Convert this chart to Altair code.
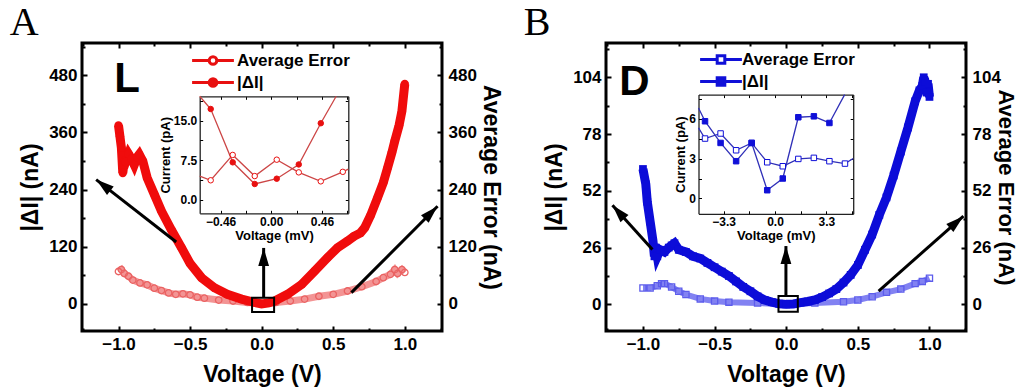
import altair as alt
import pandas as pd

FONT = "Liberation Sans"
W, H = 360, 288

# ---------------- Panel A (L) : main curves ----------------
A_dI_v = [-1.0, -0.99, -0.98, -0.97, -0.96, -0.95, -0.93, -0.91, -0.89, -0.87, -0.855, -0.83,
          -0.80, -0.75, -0.70, -0.63, -0.56, -0.50, -0.42, -0.33, -0.24, -0.14, -0.05, 0.0,
          0.05, 0.09, 0.18, 0.28, 0.37, 0.46, 0.53, 0.60, 0.645, 0.69, 0.72, 0.76, 0.81, 0.85,
          0.88, 0.91, 0.93, 0.96, 0.98, 1.0]
A_dI = [375, 352, 328, 275, 300, 298, 315, 305, 292, 308, 314, 300,
        265, 230, 195, 155, 118, 85, 55, 34, 20, 10, 3, 0,
        2, 6, 20, 41, 69, 97, 118, 132, 142, 149, 160, 185, 223, 255,
        286, 318, 342, 375, 405, 462]
A_avg_v = [-1.0, -0.98, -0.96, -0.93, -0.9, -0.85, -0.8, -0.75, -0.7, -0.65, -0.6, -0.55, -0.5,
           -0.45, -0.4, -0.3, -0.2, -0.1, 0.0, 0.1, 0.2, 0.3, 0.4, 0.5, 0.6, 0.7, 0.8, 0.85,
           0.9, 0.93, 0.95, 0.98, 1.0]
A_avg = [68, 72, 64, 58, 50, 44, 40, 33, 28, 23, 20, 21, 19,
         14, 12, 8, 6, 3, 0, 3, 6, 10, 16, 20, 27, 36, 47, 55,
         62, 72, 64, 72, 66]
# inset A (mV, pA); first / last entries are where the lines meet the inset frame
A_ins_avg_v = [-0.65, -0.55, -0.35, -0.15, 0.05, 0.25, 0.45, 0.65, 0.70]
A_ins_avg = [4.5, 3.7, 8.5, 4.5, 7.6, 5.2, 3.5, 5.3, 5.8]
A_ins_dI_v = [-0.65, -0.55, -0.35, -0.15, 0.05, 0.25, 0.45, 0.59]
A_ins_dI = [19.6, 17.2, 7.1, 3.0, 4.0, 6.7, 14.5, 19.6]
# annotations A
A_arrow_x0 = [-0.597, 0.627, 0.014]
A_arrow_y0 = [130, 23.5, 13]
A_arrow_x1 = [-1.156, 1.229, 0.014]
A_arrow_y1 = [261, 205, 117.5]
A_arrow_ang = [308, 45, 0]
A_box = [-0.067, 0.087, -17, 13]
A_letter = ["L", -1.03, 446]

# ---------------- Panel B (D) ----------------
B_dI_v = [-1.0, -0.98, -0.97, -0.95, -0.93, -0.92, -0.91, -0.9, -0.88, -0.85, -0.82, -0.8, -0.78,
          -0.75, -0.7, -0.65, -0.6, -0.55, -0.5, -0.45, -0.4, -0.35, -0.3, -0.25, -0.2, -0.15,
          -0.1, -0.05, 0.0, 0.05, 0.1, 0.15, 0.2, 0.25, 0.3, 0.35, 0.4, 0.45, 0.5, 0.55, 0.6,
          0.65, 0.7, 0.75, 0.8, 0.85, 0.9, 0.93, 0.95, 0.96, 0.97, 0.98, 0.99, 1.0]
B_dI = [62, 55, 47, 38, 29, 22, 26, 22, 25, 24, 26, 27, 28,
        25, 24, 22, 21, 19, 17, 15, 13, 10.5, 8, 6, 3.7, 2,
        1, 0.3, 0, 0.2, 0.8, 1.3, 2, 3.3, 5, 7, 10, 13.5, 18, 25, 32,
        41, 49, 59, 70, 81, 93, 98, 100, 104, 102, 97, 101, 95]
B_avg_v = [-1.0, -0.95, -0.9, -0.87, -0.85, -0.8, -0.75, -0.7, -0.6, -0.5, -0.4, -0.2, 0.0,
           0.2, 0.4, 0.5, 0.6, 0.7, 0.8, 0.9, 0.95, 1.0]
B_avg = [7.5, 7.5, 8.5, 9.5, 9.5, 8, 6, 4.5, 2.5, 1.5, 1, 0.6, 0,
         0.6, 1.2, 2, 3.5, 5.5, 7, 9.5, 10.5, 12]
B_ins_avg_v = [-4.92, -4.5, -3.5, -2.5, -1.5, -0.5, 0.5, 1.5, 2.5, 3.5, 4.5, 5.03]
B_ins_avg = [5.3, 4.5, 4.88, 3.62, 4.17, 2.72, 2.42, 2.97, 3.05, 2.8, 2.62, 3.0]
B_ins_dI_v = [-4.92, -4.5, -3.5, -2.5, -1.5, -0.5, 0.5, 1.5, 2.5, 3.5, 4.48]
B_ins_dI = [6.8, 5.8, 4.17, 2.8, 4.17, 0.62, 1.5, 6.1, 6.17, 5.67, 7.8]
B_arrow_x0 = [-0.934, 0.645, -0.002]
B_arrow_y0 = [25.1, 6.1, 3.8]
B_arrow_x1 = [-1.213, 1.237, -0.002]
B_arrow_y1 = [45.4, 40.4, 26.7]
B_arrow_ang = [318, 49, 0]
B_box = [-0.054, 0.081, -3.4, 3.8]
B_letter = ["D", -1.165, 96]

SERIES = ["Average Error", "|ΔI|"]
X_TICKS = [-1.0, -0.5, 0.0, 0.5, 1.0]
X_MINOR = [-1.25, -0.75, -0.25, 0.25, 0.75, 1.25]
ARROW = "M0,0L0.6,2L-0.6,2Z"

PANELS = [
    dict(title="A", tdx=-10, xdom=[-1.255, 1.26], ydom=[-57, 548],
         yt=[0, 120, 240, 360, 480], ym=[60, 180, 300, 420, 540], rtpad=2, rtsize=23,
         dI_v=A_dI_v, dI=A_dI, avg_v=A_avg_v, avg=A_avg,
         c_dI="#f00c0c", c_avg_line="#f39494", c_avg_pt="#ea6262", shape="circle",
         dI_w=9, dI_size=70, avg_w=7, avg_size=42,
         ins_avg_v=A_ins_avg_v, ins_avg=A_ins_avg, ins_dI_v=A_ins_dI_v, ins_dI=A_ins_dI,
         ixdom=[-0.65, 0.70], iydom=[-2.55, 19.6], ixr=[117.7, 266.3], iyr=[170.3, 53.3],
         ixt=[-0.46, 0.0, 0.46], ixm=[-0.46, -0.23, 0.0, 0.23, 0.46, 0.69], ixf=".2f",
         iyt=[0, 7.5, 15], iym=[0, 3.75, 7.5, 11.25, 15, 18.75], iyf=".1f",
         c_ins="#cc4646", c_leg="#e81010",
         sym="M-2.2,0H-0.4M0.4,0H2.2M-0.4,0A0.4,0.4 0 1,1 0.4,0A0.4,0.4 0 1,1 -0.4,0Z",
         legx=120, legy=6.5, leg_off=13,
         ax0=A_arrow_x0, ay0=A_arrow_y0, ax1=A_arrow_x1, ay1=A_arrow_y1, aang=A_arrow_ang,
         box=A_box, letter=A_letter),
    dict(title="B", tdx=-20, xdom=[-1.258, 1.255], ydom=[-12.2, 119.7],
         yt=[0, 26, 52, 78, 104], ym=[13, 39, 65, 91, 117], rtpad=-7, rtsize=22,
         dI_v=B_dI_v, dI=B_dI, avg_v=B_avg_v, avg=B_avg,
         c_dI="#0c0cd8", c_avg_line="#8282f2", c_avg_pt="#5c5cec", shape="square",
         dI_w=9, dI_size=60, avg_w=6, avg_size=38,
         ins_avg_v=B_ins_avg_v, ins_avg=B_ins_avg, ins_dI_v=B_ins_dI_v, ins_dI=B_ins_dI,
         ixdom=[-4.92, 5.03], iydom=[-1.15, 7.8], ixr=[92.5, 247.2], iyr=[170.8, 51.6],
         ixt=[-3.3, 0.0, 3.3], ixm=[-3.3, -1.65, 0.0, 1.65, 3.3, 4.95], ixf=".1f",
         iyt=[0, 3, 6], iym=[0, 1.5, 3, 4.5, 6, 7.5], iyf="d",
         c_ins="#3030b8", c_leg="#1010d8",
         sym="M-2.2,0H-0.4M0.4,0H2.2M-0.4,-0.4H0.4V0.4H-0.4Z",
         legx=104, legy=5.5, leg_off=10,
         ax0=B_arrow_x0, ay0=B_arrow_y0, ax1=B_arrow_x1, ay1=B_arrow_y1, aang=B_arrow_ang,
         box=B_box, letter=B_letter),
]


def lab_axis(orient, values, fmt, title, tpad, lsize=17, tsize=23, lpad=5, domain=False, offset=0):
    return alt.Axis(orient=orient, values=values, format=fmt, title=title, titlePadding=tpad,
                    labelFontSize=lsize, titleFontSize=tsize, labelPadding=lpad, ticks=False,
                    domain=domain, domainWidth=1.3, grid=False, offset=offset, labelFlush=False)


def tick_axis(orient, offset, values, size, width=2, domain=False):
    return alt.Axis(orient=orient, offset=offset, values=values, labels=False, ticks=True,
                    tickSize=size, tickWidth=width, domain=domain, domainWidth=1.3, grid=False,
                    title=None)


def panel(p):
    def xs():
        return alt.Scale(domain=p["xdom"], nice=False, zero=False)

    def ys():
        return alt.Scale(domain=p["ydom"], nice=False, zero=False)

    def ixs():
        return alt.Scale(domain=p["ixdom"], range=p["ixr"], nice=False, zero=False, clamp=True)

    def iys():
        return alt.Scale(domain=p["iydom"], range=p["iyr"], nice=False, zero=False, clamp=True)

    df_avg = pd.DataFrame({"v": p["avg_v"], "i": p["avg"]})
    df_dI = pd.DataFrame({"v": p["dI_v"], "i": p["dI"]})

    avg_line = alt.Chart(df_avg).mark_line(color=p["c_avg_line"], strokeWidth=p["avg_w"], clip=True).encode(
        x=alt.X("v:Q", scale=xs(), axis=lab_axis("bottom", X_TICKS, ".1f", "Voltage (V)", 11, lpad=5)),
        y=alt.Y("i:Q", scale=ys(), axis=lab_axis("right", p["yt"], "d", "Average Error (nA)", p["rtpad"],
                                                  tsize=p["rtsize"], lpad=6)),
    )
    avg_pts = alt.Chart(df_avg).mark_point(shape=p["shape"], filled=False, size=p["avg_size"], strokeWidth=1.3,
                                           color=p["c_avg_pt"], opacity=1, clip=True).encode(
        x=alt.X("v:Q", scale=xs(), axis=tick_axis("top", -H, X_TICKS, 5)),
        y=alt.Y("i:Q", scale=ys(), axis=tick_axis("left", -W, p["yt"], 5)),
    )
    dI_line = alt.Chart(df_dI).mark_line(color=p["c_dI"], strokeWidth=p["dI_w"], clip=True).encode(
        x=alt.X("v:Q", scale=xs(), axis=tick_axis("top", -H, X_MINOR, 3)),
        y=alt.Y("i:Q", scale=ys(), axis=lab_axis("left", p["yt"], "d", "|ΔI| (nA)", 6, lpad=5)),
    )
    dI_pts = alt.Chart(df_dI).mark_point(shape=p["shape"], filled=True, size=p["dI_size"], color=p["c_dI"],
                                         opacity=1, clip=True).encode(
        x=alt.X("v:Q", scale=xs(), axis=tick_axis("bottom", -H, X_TICKS, 5)),
        y=alt.Y("i:Q", scale=ys(), axis=tick_axis("right", -W, p["yt"], 5)),
    )
    b = p["box"]
    box = alt.Chart(pd.DataFrame({"x0": [b[0]], "x1": [b[1]], "y0": [b[2]], "y1": [b[3]]})).mark_rect(
        fillOpacity=0, stroke="black", strokeWidth=2).encode(
        x=alt.X("x0:Q", scale=xs(), axis=tick_axis("bottom", -H, X_MINOR, 3)),
        x2="x1:Q",
        y=alt.Y("y0:Q", scale=ys(), axis=tick_axis("right", -W, p["ym"], 3)),
        y2="y1:Q",
    )
    df_ar = pd.DataFrame({"x0": p["ax0"], "y0": p["ay0"], "x1": p["ax1"], "y1": p["ay1"], "ang": p["aang"]})
    arrow_rule = alt.Chart(df_ar).mark_rule(color="black", strokeWidth=3).encode(
        x=alt.X("x0:Q", scale=xs(), axis=None),
        x2="x1:Q",
        y=alt.Y("y0:Q", scale=ys(), axis=tick_axis("left", -W, p["ym"], 3)),
        y2="y1:Q",
    )
    arrow_head = alt.Chart(df_ar).mark_point(shape=ARROW, filled=True, size=324, color="black",
                                             opacity=1).encode(
        x=alt.X("x1:Q", scale=xs(), axis=None),
        y=alt.Y("y1:Q", scale=ys(), axis=None),
        angle=alt.Angle("ang:Q", scale=None),
    )
    lt = p["letter"]
    letter = alt.Chart(pd.DataFrame({"t": [lt[0]], "x": [lt[1]], "y": [lt[2]]})).mark_text(
        font=FONT, fontSize=42, fontWeight="bold", align="left", baseline="alphabetic", color="black").encode(
        x=alt.X("x:Q", scale=xs(), axis=None),
        y=alt.Y("y:Q", scale=ys(), axis=None),
        text="t:N",
    )

    # ---- inset ----
    n_a = len(p["ins_avg_v"])
    n_d = len(p["ins_dI_v"])
    df_ia = pd.DataFrame({"v": p["ins_avg_v"], "i": p["ins_avg"], "s": SERIES[0],
                          "edge": [k in (0, n_a - 1) for k in range(n_a)]})
    df_id = pd.DataFrame({"v": p["ins_dI_v"], "i": p["ins_dI"], "s": SERIES[1],
                          "edge": [k in (0, n_d - 1) for k in range(n_d)]})
    ixr, iyr = p["ixr"], p["iyr"]
    ins_avg_line = alt.Chart(df_ia).mark_line(color=p["c_ins"], strokeWidth=1.3).encode(
        x=alt.X("v:Q", scale=ixs(), axis=lab_axis("bottom", p["ixt"], p["ixf"], "Voltage (mV)", 2,
                                                   lsize=12, tsize=13, lpad=3, domain=True,
                                                   offset=iyr[0] - H)),
        y=alt.Y("i:Q", scale=iys(), axis=lab_axis("left", p["iyt"], p["iyf"], "Current (pA)", 1,
                                                   lsize=12, tsize=13, lpad=3, domain=True,
                                                   offset=-ixr[0])),
    )
    ins_dI_line = alt.Chart(df_id).mark_line(color=p["c_ins"], strokeWidth=1.3).encode(
        x=alt.X("v:Q", scale=ixs(), axis=tick_axis("top", -iyr[0], p["ixm"], 3, width=1)),
        y=alt.Y("i:Q", scale=iys(), axis=tick_axis("right", ixr[0] - W, p["iym"], 3, width=1)),
    )
    df_ip = pd.concat([df_ia, df_id], ignore_index=True)
    leg = alt.Legend(title=None, orient="none", legendX=p["legx"], legendY=p["legy"],
                     symbolType=p["sym"], symbolSize=361, symbolStrokeWidth=3,
                     labelFontSize=17, labelFontWeight="bold", labelFont=FONT, labelColor="black",
                     rowPadding=1, labelOffset=p["leg_off"], padding=0, labelLimit=300)
    ins_pts = alt.Chart(df_ip).transform_filter("!datum.edge").mark_point(
        shape=p["shape"], filled=False, strokeWidth=1, opacity=1).encode(
        x=alt.X("v:Q", scale=ixs(), axis=tick_axis("bottom", iyr[1] - H, p["ixm"], 3, width=1, domain=True)),
        y=alt.Y("i:Q", scale=iys(), axis=tick_axis("left", -ixr[1], p["iym"], 3, width=1, domain=True)),
        stroke=alt.Stroke("s:N", scale=alt.Scale(domain=SERIES, range=[p["c_leg"], p["c_leg"]]), legend=leg),
        fill=alt.Fill("s:N", scale=alt.Scale(domain=SERIES, range=["white", p["c_leg"]]), legend=leg),
    )

    return alt.layer(
        avg_line, avg_pts, dI_line, dI_pts, box, arrow_rule, arrow_head, letter,
        ins_avg_line, ins_dI_line, ins_pts,
    ).resolve_scale(x="independent", y="independent").properties(
        width=W, height=H,
        title=alt.TitleParams(text=p["title"], anchor="start", frame="bounds", font="Liberation Serif",
                              fontSize=40, fontWeight="normal", color="black", dx=p["tdx"],
                              offset=-33, baseline="alphabetic"),
    )


chart = alt.hconcat(panel(PANELS[0]), panel(PANELS[1]), spacing=19).resolve_scale(
    stroke="independent", fill="independent").resolve_legend(
    stroke="independent", fill="independent").properties(
    padding={"left": 8, "top": 1, "right": 0, "bottom": 0}, background="white"
).configure_view(stroke="black", strokeWidth=3).configure_axis(
    labelFont=FONT, titleFont=FONT, labelFontWeight="bold", titleFontWeight="bold",
    labelColor="black", titleColor="black", tickColor="black", domainColor="#222222")

chart.save("out.html", embed_options={"renderer": "svg", "actions": False})
